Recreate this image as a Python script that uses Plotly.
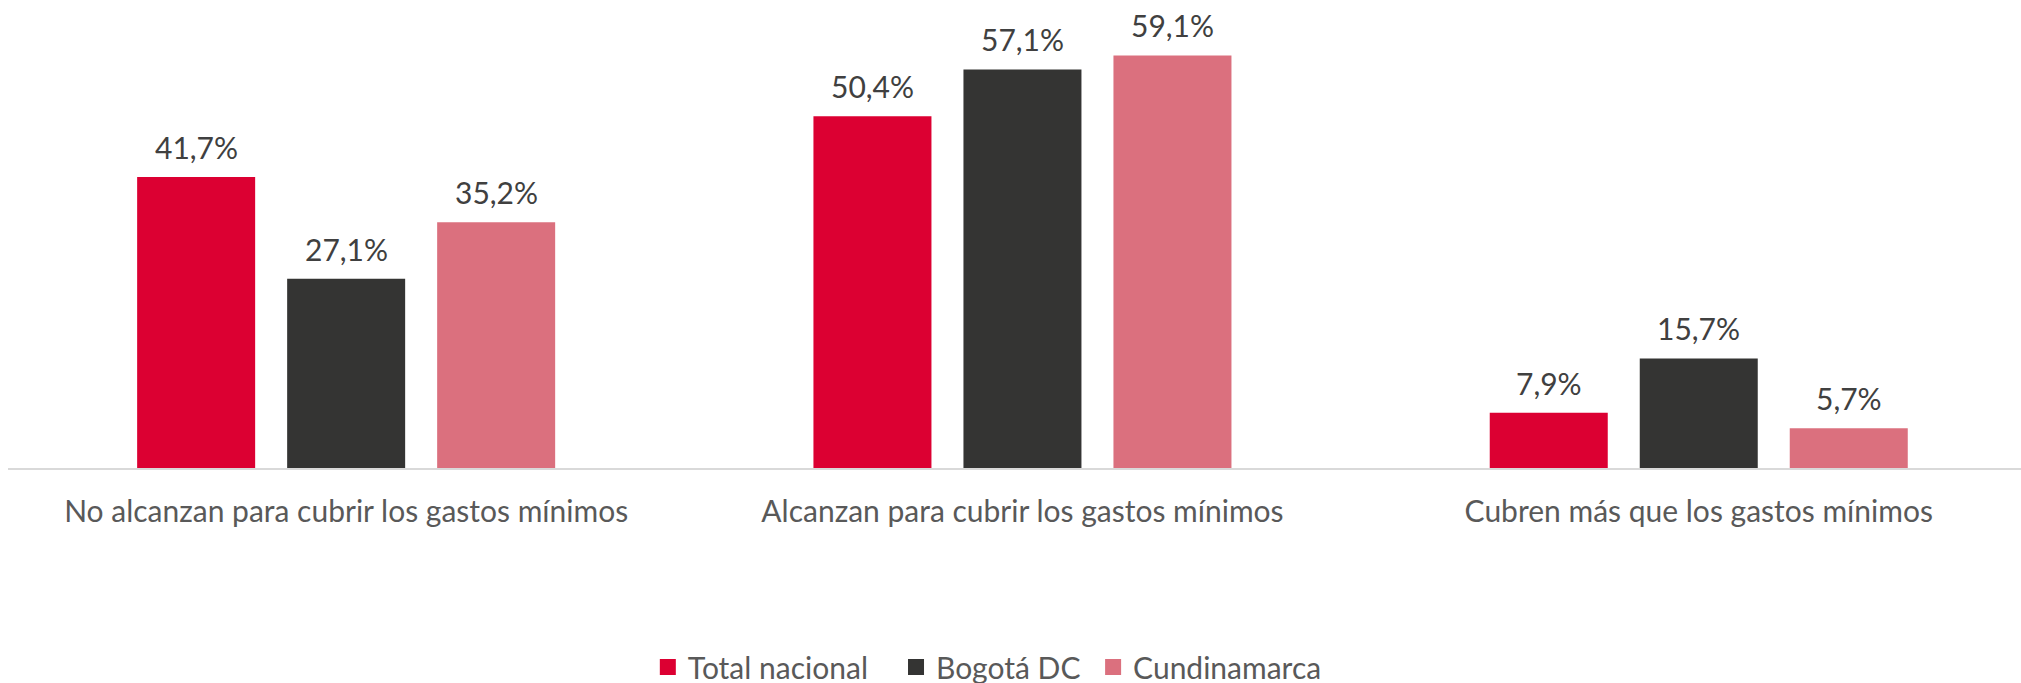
import plotly.graph_objects as go

categories = ["No alcanzan para cubrir los gastos mínimos",
              "Alcanzan para cubrir los gastos mínimos",
              "Cubren más que los gastos mínimos"]
series_names = ["Total nacional", "Bogotá DC", "Cundinamarca"]
total_nacional = [41.7, 50.4, 7.9]
bogota = [27.1, 57.1, 15.7]
cundinamarca = [35.2, 59.1, 5.7]
colors = ["#DC0032", "#343433", "#DB707E"]

series_values = [total_nacional, bogota, cundinamarca]

W, H = 2021, 700          # a little taller than the window; bottom is clipped
px_per_unit = 6.98
plot_h = 468
left = 8
cat_px = 676.3
bar_slot_px = 150
font_family = "Lato"

fig = go.Figure()
for name, vals, col in zip(series_names, series_values, colors):
    fig.add_trace(go.Bar(x=categories, y=vals, name=name, showlegend=False,
                         marker=dict(color=col, line=dict(width=0))))

# legend entries (square swatches like the reference)
legend_pad = ["\u00a0\u00a0\u00a0", "\u00a0", ""]
for name, col, p in zip(series_names, colors, legend_pad):
    fig.add_trace(go.Scatter(x=[None], y=[None], mode="markers", name=name + p,
                             marker=dict(symbol="square", size=16, color=col),
                             hoverinfo="skip"))

for j, vals in enumerate(series_values):
    for cat, v in zip(categories, vals):
        fig.add_annotation(x=cat, y=v, xref="x", yref="y",
                           text=f"{v:.1f}".replace(".", ",") + "%",
                           showarrow=False, yanchor="middle",
                           yshift=30, xshift=(j - 1) * bar_slot_px,
                           font=dict(family=font_family, size=30, color="#404040"))

fig.update_layout(
    width=W, height=H,
    margin=dict(l=left, r=0, t=0, b=H - plot_h, pad=0),
    plot_bgcolor="white", paper_bgcolor="white",
    barmode="group", bargap=0.3346, bargroupgap=0.2133,
    separators=",.",
    showlegend=True,
    legend=dict(orientation="h", x=0.4865, xanchor="center", y=(plot_h - 667) / plot_h,
                yanchor="middle",
                font=dict(family=font_family, size=30, color="#595959"),
                itemclick=False, itemdoubleclick=False),
    font=dict(family=font_family),
)
fig.update_xaxes(range=[-0.5, -0.5 + (W - left) / cat_px], showline=True, linecolor="#D9D9D9",
                 linewidth=1.5, ticks="", showgrid=False, zeroline=False,
                 tickfont=dict(family=font_family, size=30, color="#595959"),
                 ticklabelstandoff=16)
fig.update_yaxes(range=[0, plot_h / px_per_unit], visible=False, showgrid=False, zeroline=False)

fig.write_html("out.html", config={"displayModeBar": False},
               post_script="document.body.style.margin='0';document.body.style.overflow='hidden';")
